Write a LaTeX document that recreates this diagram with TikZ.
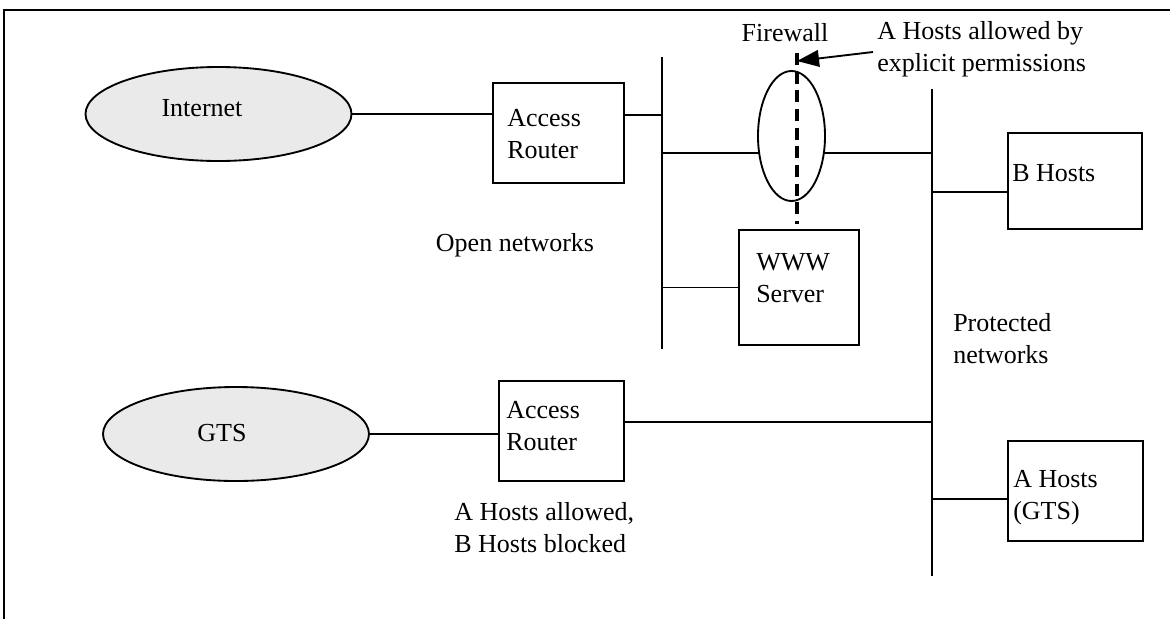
\documentclass[tikz,border=0pt]{standalone}
\usepackage{fontspec}
\setmainfont{Liberation Serif}
\usetikzlibrary{shapes.geometric,arrows.meta,calc}
\definecolor{cloudgray}{HTML}{EAEAEA}

\begin{document}
\begin{tikzpicture}[
  x=0.75pt, y=-0.75pt,
  cloudnode/.style={ellipse, draw, fill=cloudgray, line width=1.4pt, inner sep=0pt,
                    minimum width=199.5pt, minimum height=70.5pt},
  fwnode/.style={ellipse, draw, line width=1.4pt, inner sep=0pt,
                 minimum width=50.25pt, minimum height=97.5pt},
  boxnode/.style={rectangle, draw, line width=1.4pt, inner sep=0pt},
  lbl/.style={inner sep=0pt, align=left, font=\fontsize{19.5}{24}\selectfont},
  wire/.style={line width=1.4pt},
  feed/.style={line width=2.2pt},
  frameline/.style={line width=1.8pt},
  firewallcut/.style={line width=3pt, dash pattern=on 9pt off 5pt},
]
\useasboundingbox (0,0) rectangle (1170,618);

% page frame (top and left edges)
\coordinate (frameTL) at (4,10);
\coordinate (frameTR) at (1172,10);
\coordinate (frameBL) at (4,620);
\draw[frameline] (frameTR) -- (frameTL) -- (frameBL);

% external networks
\node[cloudnode] (inet) at (218.5,114) {};
\node[lbl] (inetText) at (202,108) {Internet};
\node[cloudnode] (gts) at (236,434) {};
\node[lbl] (gtsText) at (222,433) {GTS};

% access routers
\node[boxnode, minimum width=98.25pt, minimum height=75pt] (r1) at (558.5,133) {};
\node[lbl, anchor=west] (r1Text) at (507,134) {Access\\Router};
\node[boxnode, minimum width=93.75pt, minimum height=75pt] (r2) at (561.5,431) {};
\node[lbl, anchor=west] (r2Text) at (506,426) {Access\\Router};

% web server
\node[boxnode, minimum width=90pt, minimum height=86.25pt] (www) at (799,287.5) {};
\node[lbl, anchor=west] (wwwText) at (756,278) {WWW\\Server};

% hosts
\node[boxnode, minimum width=100.5pt, minimum height=72pt] (bh) at (1075,181) {};
\node[lbl, anchor=west] (bhText) at (1012,173) {B Hosts};
\node[boxnode, minimum width=101.25pt, minimum height=75pt] (ah) at (1075.5,491) {};
\node[lbl, anchor=west] (ahText) at (1013,497.5) {A Hosts\\(GTS)};

% firewall
\node[fwnode] (fw) at (791.5,136) {};
\coordinate (fwIn) at ($(fw.center)+(-32.3,17)$);
\coordinate (fwOut) at ($(fw.center)+(32.3,17)$);
\coordinate (cutTop) at (797,53);
\coordinate (cutBot) at (797,224);
\draw[firewallcut] (cutTop) -- (cutBot);

% network buses
\coordinate (openTop) at (662,57);
\coordinate (openBot) at (662,349);
\coordinate (protTop) at (932,89);
\coordinate (protBot) at (932,576);
\draw[wire] (openTop) -- (openBot);
\draw[wire] (protTop) -- (protBot);

% links
\draw[feed] (inet.east) -- (inet.east -| r1.west);
\draw[wire] (r1.east |- 0,115) -- (openTop |- 0,115);
\draw[wire] (openTop |- fwIn) -- (fwIn);
\draw[wire] (fwOut) -- (protTop |- fwOut);
\draw[wire] (openTop |- www.west) -- (www.west);
\draw[wire] (protTop |- 0,192) -- (bh.west |- 0,192);
\draw[feed] (gts.east) -- (gts.east -| r2.west);
\draw[wire] (r2.east |- 0,422) -- (protTop |- 0,422);
\draw[wire] (protTop |- 0,499) -- (ah.west |- 0,499);

% labels
\node[lbl] (openLbl) at (515,245) {Open networks};
\node[lbl] (fwLbl) at (785,33) {Firewall};
\node[lbl, anchor=west] (permLbl) at (877,49) {A Hosts allowed by\\explicit permissions};
\node[lbl, anchor=west] (protLbl) at (953,338.5) {Protected\\networks};
\node[lbl, anchor=west] (gtsRule) at (454,527.5) {A Hosts allowed,\\B Hosts blocked};

% permission pointer
\coordinate (permTail) at (873,52);
\coordinate (permTip) at (797,61);
\draw[line width=1.4pt, -{Triangle[length=16.5pt,width=12.5pt]}] (permTail) -- (permTip);
\end{tikzpicture}
\end{document}
